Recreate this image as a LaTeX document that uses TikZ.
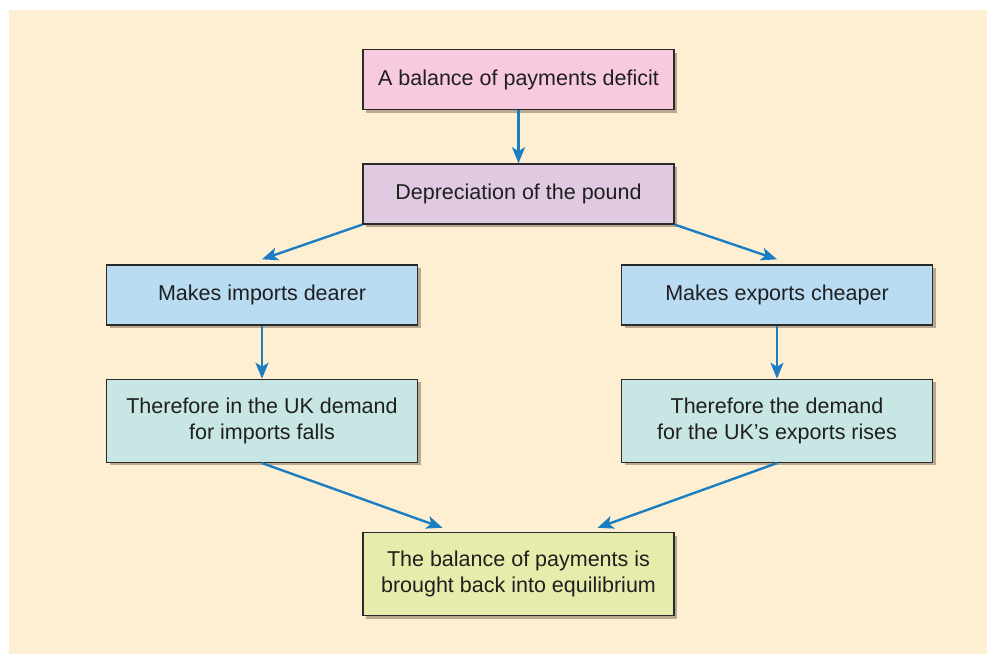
\documentclass[tikz,border=0pt]{standalone}
\usepackage{fontspec}
\setmainfont{Liberation Sans}
\usetikzlibrary{arrows.meta,positioning,shadows}

\definecolor{bgcream}{HTML}{FEEFD3}
\definecolor{pinkbox}{HTML}{F8CADF}
\definecolor{lilacbox}{HTML}{DFCAE2}
\definecolor{bluebox}{HTML}{BADCF3}
\definecolor{tealbox}{HTML}{C8E7E4}
\definecolor{greenbox}{HTML}{E6ECAB}
\definecolor{arrowblue}{HTML}{1B7EC2}
\definecolor{shadowgrey}{HTML}{BAA991}
\definecolor{edgegrey}{HTML}{2A2A2A}

\begin{document}
\begin{tikzpicture}[
            x=1pt, y=-1pt,
            box/.style={draw=edgegrey, line width=1.4pt, minimum width=311pt,
                minimum height=60pt, inner sep=0pt, align=center,
                font=\fontsize{21.5}{26}\selectfont, text=black!88,
                drop shadow={shadow xshift=3pt, shadow yshift=-3pt,
                    fill=shadowgrey, opacity=1}},
            tall/.style={minimum height=83pt},
            link/.style={draw=arrowblue, line width=2.4pt,
                -{Stealth[length=16pt, width=13pt, inset=4pt]}},
        ]
        \useasboundingbox (0,0) rectangle (987,654);
        \fill[bgcream] (9,10) rectangle (987,654);

        \node[box, fill=pinkbox] (deficit) at (518.5,79.5) {A balance of payments deficit};
        \node[box, fill=lilacbox, below=53pt of deficit] (depr) {Depreciation of the pound};
        \node[box, fill=bluebox] (dearer) at (262,295) {Makes imports dearer};
        \node[box, fill=bluebox] (cheaper) at (777,295) {Makes exports cheaper};
        \node[box, tall, fill=tealbox, below=53pt of dearer] (impfall)
            {Therefore in the UK demand\\for imports falls};
        \node[box, tall, fill=tealbox, below=53pt of cheaper] (exprise)
            {Therefore the demand\\for the UK’s exports rises};
        \node[box, tall, fill=greenbox] (equil) at (518.5,574)
            {The balance of payments is\\brought back into equilibrium};

        \draw[link] (deficit) -- (depr);
        \draw[link] (depr.south west) -- ([yshift=5pt]dearer.north);
        \draw[link] (depr.south east) -- ([yshift=5pt]cheaper.north);
        \draw[link] (dearer) -- (impfall);
        \draw[link] (cheaper) -- (exprise);
        \draw[link] (impfall.south) -- ([xshift=-76pt, yshift=4pt]equil.north);
        \draw[link] (exprise.south) -- ([xshift=79pt, yshift=4pt]equil.north);
    \end{tikzpicture}
\end{document}
